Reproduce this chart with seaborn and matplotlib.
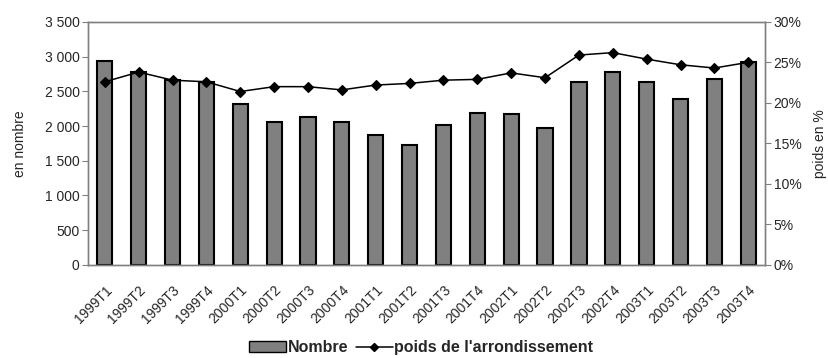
import numpy as np
import pandas as pd
import matplotlib
matplotlib.use("Agg")
import matplotlib.pyplot as plt
import matplotlib.transforms as mtransforms
import seaborn as sns
from matplotlib.ticker import FuncFormatter
from matplotlib.patches import Patch
from matplotlib.lines import Line2D

quarters = ["1999T1", "1999T2", "1999T3", "1999T4",
            "2000T1", "2000T2", "2000T3", "2000T4",
            "2001T1", "2001T2", "2001T3", "2001T4",
            "2002T1", "2002T2", "2002T3", "2002T4",
            "2003T1", "2003T2", "2003T3", "2003T4"]
nombre = [2930, 2780, 2660, 2630, 2310, 2055, 2125, 2065, 1865, 1720,
          2010, 2185, 2170, 1965, 2630, 2780, 2630, 2385, 2675, 2925]
poids = [22.6, 23.8, 22.8, 22.6, 21.4, 22.0, 22.0, 21.6, 22.2, 22.4,
         22.8, 22.9, 23.7, 23.1, 25.9, 26.2, 25.4, 24.7, 24.3, 25.0]

data = pd.DataFrame({"quarter": quarters, "nombre": nombre, "poids": poids})

sns.set_style("white")
plt.rcParams["font.family"] = ["Liberation Sans", "DejaVu Sans"]

fig = plt.figure(figsize=(8.29, 3.58), dpi=100)
ax = fig.add_axes([0.106, 0.26, 0.817, 0.679])

sns.barplot(data=data, x="quarter", y="nombre", ax=ax, color="#808080",
            saturation=1, width=0.45, edgecolor="black", linewidth=1.5)

ax2 = ax.twinx()
sns.pointplot(data=data, x="quarter", y="poids", ax=ax2, color="black",
              markers="D", markersize=5, linewidth=1.1)

ax.set_ylim(0, 3500)
ax.set_yticks(np.arange(0, 3501, 500))
ax.yaxis.set_major_formatter(FuncFormatter(lambda v, p: f"{int(v):,}".replace(",", " ")))
ax2.set_ylim(0, 30)
ax2.set_yticks(np.arange(0, 31, 5))
ax2.yaxis.set_major_formatter(FuncFormatter(lambda v, p: f"{int(v)}%"))
ax.set_xlim(-0.5, len(quarters) - 0.5)
ax2.set_xlim(-0.5, len(quarters) - 0.5)

ax.set_xticks(np.arange(len(quarters)))
ax.set_xticklabels(quarters, rotation=45, ha="right", va="top",
                   rotation_mode="anchor", fontsize=10)
shift = mtransforms.ScaledTranslation(-5 / 100, 0, fig.dpi_scale_trans)
for lbl in ax.get_xticklabels():
    lbl.set_transform(lbl.get_transform() + shift)
ax.set_xticks(np.arange(-0.5, len(quarters), 1), minor=True)
ax.tick_params(axis="x", which="major", length=0, pad=13)
ax.tick_params(axis="x", which="minor", length=4, color="#808080", width=1)
ax.tick_params(axis="y", length=4, color="#808080", labelsize=10, left=True, pad=2)
ax2.tick_params(axis="y", length=4, color="#808080", labelsize=10, right=True, pad=2)

for a in (ax, ax2):
    for s in a.spines.values():
        s.set_color("#808080")
        s.set_linewidth(1)
    a.grid(False)

ax.set_xlabel("")
ax.set_ylabel("en nombre", fontsize=10)
ax.yaxis.set_label_coords(-0.09, 0.5)
ax2.set_ylabel("poids en %", fontsize=10, rotation=90)
ax2.yaxis.set_label_coords(1.07, 0.5)

handles = [Patch(facecolor="#808080", edgecolor="black", linewidth=1),
           Line2D([0], [0], color="black", marker="D", markersize=4, linewidth=1.1)]
fig.legend(handles, ["Nombre", "poids de l'arrondissement"], loc="center",
           bbox_to_anchor=(0.508, 0.028), ncol=2, frameon=False,
           prop={"weight": "bold", "size": 11.5}, handlelength=2.3,
           handletextpad=0.1, columnspacing=0.5)

fig.savefig("out.png", dpi=100)
